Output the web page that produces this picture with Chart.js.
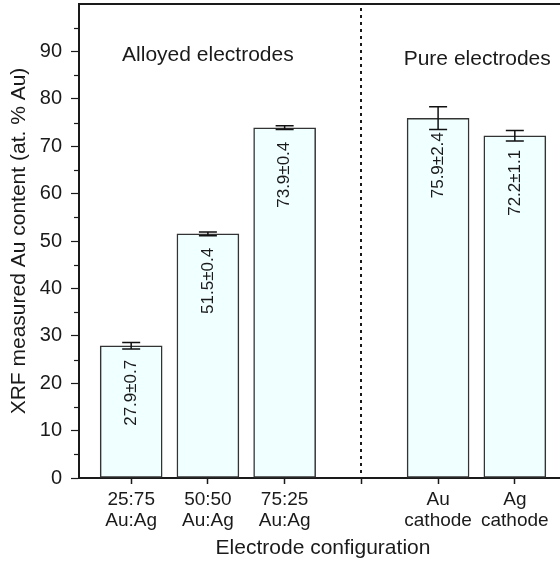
<!DOCTYPE html>
<html>
<head>
<meta charset="utf-8">
<script src="https://cdn.jsdelivr.net/npm/chart.js@4.4.1/dist/chart.umd.min.js"></script>
<style>
  html, body { margin: 0; padding: 0; overflow: hidden; background: #fff; }
  #wrap { width: 580px; height: 563px; position: relative; }
</style>
</head>
<body>
<div id="wrap"><canvas id="c"></canvas></div>
<script>
// Tick positions along the configuration axis and their labels
const tickPositions = [1, 2, 3, 4, 5, 6];
const tickLabels = [
  ['25:75', 'Au:Ag'],
  ['50:50', 'Au:Ag'],
  ['75:25', 'Au:Ag'],
  '',
  ['Au', 'cathode'],
  ['Ag', 'cathode']
];

// Measured samples: position, mean Au content and its uncertainty
const barPositions = [1, 2, 3, 5, 6];
const auContent = [27.9, 51.5, 73.9, 75.9, 72.2];
const auError = [0.7, 0.4, 0.4, 2.4, 1.1];

// Group headings and the divider between them
const groupNames = ['Alloyed electrodes', 'Pure electrodes'];
const dividerAt = 4;

const FONT = '"Liberation Sans", Arial, Helvetica, sans-serif';
const INK = '#1a1a1a';

// Error bars, value labels, divider, headings, minor ticks and top frame
const extras = {
  id: 'extras',
  afterDatasetsDraw(chart) {
    const ctx = chart.ctx;
    const xs = chart.scales.x, ys = chart.scales.y;
    const area = chart.chartArea;
    const meta = chart.getDatasetMeta(0);

    ctx.save();

    // divider
    ctx.strokeStyle = INK;
    ctx.lineWidth = 2;
    ctx.setLineDash([3, 4]);
    const dx = Math.round(xs.getPixelForValue(dividerAt));
    ctx.beginPath();
    ctx.moveTo(dx, area.top + 4);
    ctx.lineTo(dx, area.bottom);
    ctx.stroke();
    ctx.setLineDash([]);

    // error bars
    ctx.lineWidth = 1.5;
    ctx.strokeStyle = '#111';
    meta.data.forEach((bar, i) => {
      const x = bar.x;
      const hi = ys.getPixelForValue(auContent[i] + auError[i]);
      const lo = ys.getPixelForValue(auContent[i] - auError[i]);
      const cap = 9;
      ctx.beginPath();
      ctx.moveTo(x, hi); ctx.lineTo(x, lo);
      ctx.moveTo(x - cap, hi); ctx.lineTo(x + cap, hi);
      ctx.moveTo(x - cap, lo); ctx.lineTo(x + cap, lo);
      ctx.stroke();
    });

    // value labels inside bars
    ctx.fillStyle = INK;
    ctx.font = '17px ' + FONT;
    meta.data.forEach((bar, i) => {
      const top = ys.getPixelForValue(auContent[i]);
      ctx.save();
      ctx.translate(bar.x, top + 14);
      ctx.rotate(-Math.PI / 2);
      ctx.textAlign = 'right';
      ctx.textBaseline = 'middle';
      ctx.fillText(auContent[i].toFixed(1) + '\u00b1' + auError[i].toFixed(1), 0, 0);
      ctx.restore();
    });

    // group headings
    ctx.font = '21px ' + FONT;
    ctx.textAlign = 'center';
    ctx.textBaseline = 'middle';
    ctx.fillText(groupNames[0], xs.getPixelForValue(2), ys.getPixelForValue(89.2));
    ctx.fillText(groupNames[1], xs.getPixelForValue(5.51), ys.getPixelForValue(88.3));

    // minor ticks on the y axis
    ctx.strokeStyle = INK;
    ctx.lineWidth = 1.2;
    for (let v = 5; v < 100; v += 10) {
      const y = Math.round(ys.getPixelForValue(v)) + 0.5;
      ctx.beginPath();
      ctx.moveTo(area.left - 5, y);
      ctx.lineTo(area.left, y);
      ctx.stroke();
    }

    // top and right frame
    ctx.lineWidth = 2;
    ctx.beginPath();
    ctx.moveTo(area.left, area.top);
    ctx.lineTo(area.right, area.top);
    ctx.lineTo(area.right, area.bottom);
    ctx.stroke();

    ctx.restore();
  }
};

new Chart(document.getElementById('c'), {
  type: 'bar',
  data: {
    datasets: [{
      data: barPositions.map((x, i) => ({ x: x, y: auContent[i] })),
      backgroundColor: '#f0ffff',
      borderColor: '#333333',
      borderWidth: 1.5,
      borderSkipped: false,
      barThickness: 62
    }]
  },
  options: {
    responsive: true,
    maintainAspectRatio: false,
    animation: false,
    layout: { padding: { top: 4, right: 13, left: 0, bottom: 0 } },
    plugins: { legend: { display: false }, tooltip: { enabled: false } },
    scales: {
      x: {
        type: 'linear',
        offset: false,
        min: 0.32,
        max: 6.68,
        afterBuildTicks(scale) {
          scale.ticks = tickPositions.map(v => ({ value: v }));
        },
        afterFit(scale) {
          scale.height = 85;
          scale.paddingLeft = 0;
          scale.paddingRight = 0;
        },
        ticks: {
          autoSkip: false,
          maxRotation: 0,
          padding: 5,
          color: INK,
          font: { family: FONT, size: 19, lineHeight: 1.1 },
          callback(value) {
            const i = tickPositions.indexOf(value);
            return i >= 0 ? tickLabels[i] : '';
          }
        },
        grid: {
          drawOnChartArea: false,
          drawTicks: true,
          offset: false,
          tickLength: 6,
          tickColor: INK,
          tickWidth: 1.5
        },
        border: { display: true, color: INK, width: 2 },
        title: {
          display: true,
          text: 'Electrode configuration',
          color: INK,
          font: { family: FONT, size: 21, lineHeight: 1.2 },
          padding: { top: 0, bottom: 2 }
        }
      },
      y: {
        min: 0,
        max: 100,
        afterFit(scale) {
          scale.width = 79;
          scale.paddingTop = 0;
          scale.paddingBottom = 0;
        },
        ticks: {
          stepSize: 5,
          padding: 9,
          color: INK,
          font: { family: FONT, size: 20 },
          callback(value) {
            return (value % 10 === 0 && value < 100) ? String(value) : '';
          }
        },
        grid: {
          drawOnChartArea: false,
          drawTicks: true,
          tickLength: 8,
          tickWidth: 1.2,
          tickColor(ctx) {
            const v = ctx.tick ? ctx.tick.value : 0;
            return (v % 10 === 0 && v < 100) ? INK : 'rgba(0,0,0,0)';
          }
        },
        border: { display: true, color: INK, width: 2 },
        title: {
          display: true,
          text: 'XRF measured Au content (at. % Au)',
          color: INK,
          font: { family: FONT, size: 21, lineHeight: 1.2 },
          padding: { top: 7, bottom: 0 }
        }
      }
    }
  },
  plugins: [extras]
});
</script>
</body>
</html>
